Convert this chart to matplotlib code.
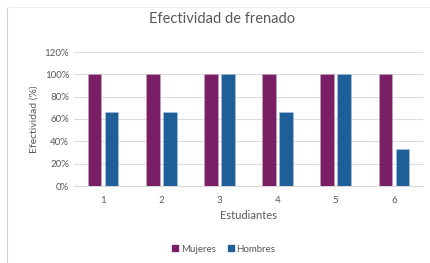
import numpy as np
from matplotlib import pyplot as plt
from matplotlib.lines import Line2D
from matplotlib.ticker import PercentFormatter

estudiantes = ["1", "2", "3", "4", "5", "6"]
mujeres = [100, 100, 100, 100, 100, 100]
hombres = [66.7, 66.7, 100, 66.7, 100, 33.3]

plt.rcParams["font.family"] = ["Lato", "DejaVu Sans"]
gray = "#595959"

fig = plt.figure(figsize=(4.3, 2.63), dpi=100)
ax = fig.add_axes([74 / 430, 1 - 186 / 263, (423 - 74) / 430, (186 - 52) / 263])

x = np.arange(len(estudiantes))
w = 0.235
off = 0.145
ax.bar(x - off, mujeres, w, color="#7A1E66", edgecolor="#c9a6c2", linewidth=0.4, label="Mujeres", zorder=3)
ax.bar(x + off, hombres, w, color="#1F5F99", edgecolor="#a9c2dc", linewidth=0.4, label="Hombres", zorder=3)

ax.set_xlim(-0.5, 5.5)
ax.set_ylim(0, 120)
ax.set_yticks(range(0, 121, 20))
ax.yaxis.set_major_formatter(PercentFormatter(decimals=0))
ax.set_xticks(x)
ax.set_xticklabels(estudiantes)
ax.grid(axis="y", color="#dcdcdc", linewidth=0.8, zorder=0)
for s in ["top", "right", "left"]:
    ax.spines[s].set_visible(False)
ax.spines["bottom"].set_color("#d9d9d9")
ax.tick_params(length=0, colors=gray, labelsize=7)
ax.tick_params(axis="x", pad=7)

ax.set_xlabel("Estudiantes", color=gray, fontsize=8, labelpad=4)
ax.set_ylabel("Efectividad (%)", color=gray, fontsize=7.5, labelpad=4)
fig.text(222 / 430, 1 - 19 / 263, "Efectividad de frenado", ha="center", va="center",
         color=gray, fontsize=10.5)

handles = [Line2D([], [], marker="s", linestyle="", color="#7A1E66", markersize=5, label="Mujeres"),
           Line2D([], [], marker="s", linestyle="", color="#1F5F99", markersize=5, label="Hombres")]
leg = fig.legend(handles=handles, loc="center", bbox_to_anchor=(223 / 430, 1 - 249 / 263), ncol=2,
                 frameon=False, fontsize=7, handletextpad=0.1, columnspacing=1.0, handlelength=1.0)
for t in leg.get_texts():
    t.set_color(gray)

# chart frame
fig.add_artist(Line2D([7 / 430, 7 / 430], [0, 1 - 7 / 263], color="#d0d0d0", linewidth=0.8))
fig.add_artist(Line2D([7 / 430, 1], [1 - 7 / 263, 1 - 7 / 263], color="#eeeeee", linewidth=0.8))

plt.savefig("out.png", dpi=100)
